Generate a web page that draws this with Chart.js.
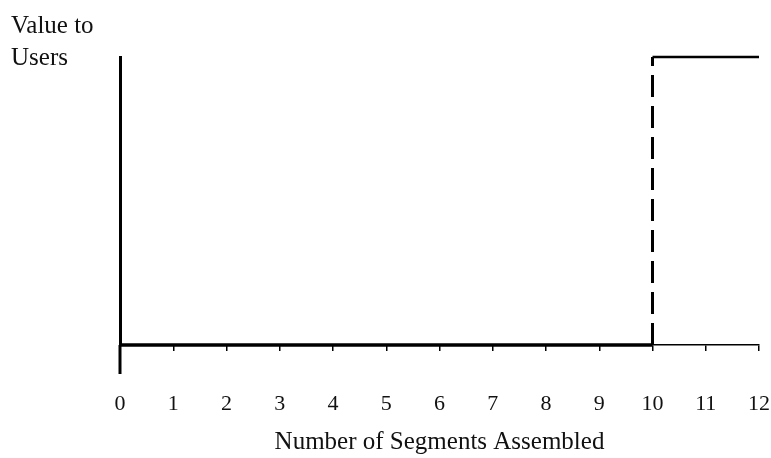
<!DOCTYPE html>
<html>
<head>
<meta charset="utf-8">
<script src="https://cdn.jsdelivr.net/npm/chart.js@4/dist/chart.umd.min.js"></script>
<style>
  html, body { margin: 0; padding: 0; background: #fff; }
  #wrap { width: 771px; height: 458px; position: relative; }
</style>
</head>
<body>
<div id="wrap"><canvas id="myChart"></canvas></div>
<script>
// segments on the x axis
var segments=[0,1,2,3,4,5,6,7,8,9,10,11,12];
// value stays at zero until the 10th segment, then jumps to full value
var flatX=[0,10];
var flatY=[0,0];
var jumpX=[10,10];
var jumpY=[0,1];
var fullX=[10,12];
var fullY=[1,1];
var yLabel=["Value to","Users"];
var xTitle="Number of Segments Assembled";

var serif="'Liberation Serif', 'DejaVu Serif', serif";

function pairs(xs,ys) {
    var out=[];
    for(let i=0;i<xs.length;i++) out.push({x:xs[i],y:ys[i]});
    return out;
}

// draws the y axis stub below the x axis and the left label
var extras={
    id:'extras',
    afterDraw:function(chart) {
        var ctx=chart.ctx;
        var x0=chart.scales.x.getPixelForValue(segments[0]);
        var bottom=chart.chartArea.bottom;
        ctx.save();
        ctx.strokeStyle='#000';
        ctx.lineWidth=3;
        ctx.beginPath();
        ctx.moveTo(x0,bottom);
        ctx.lineTo(x0,bottom+29);
        ctx.stroke();
        ctx.fillStyle='#111';
        ctx.font="25px "+serif;
        ctx.textBaseline='alphabetic';
        for(let i=0;i<yLabel.length;i++) {
            ctx.fillText(yLabel[i],11,33+i*32);
        }
        ctx.restore();
    }
};

var ctx=document.querySelector('#myChart').getContext('2d');
var myChart=new Chart(ctx,{
    type:'line',
    data:{
        datasets:[{
            data:pairs(flatX,flatY),
            borderColor:'#000',
            borderWidth:3.5,
            pointRadius:0,
            clip:false
        },{
            data:pairs(jumpX,jumpY),
            borderColor:'#000',
            borderWidth:3,
            borderDash:[22,9],
            borderCapStyle:'butt',
            pointRadius:0,
            clip:false
        },{
            data:pairs(fullX,fullY),
            borderColor:'#000',
            borderWidth:2.5,
            pointRadius:0,
            clip:false
        }]
    },
    options:{
        responsive:true,
        maintainAspectRatio:false,
        animation:false,
        layout:{padding:{left:120,top:57,right:12,bottom:0}},
        plugins:{legend:{display:false},tooltip:{enabled:false}},
        scales:{
            x:{
                type:'linear',
                min:segments[0],
                max:segments[segments.length-1],
                afterFit:function(scale) {
                    scale.height=113;
                    scale.paddingLeft=0;
                    scale.paddingRight=0;
                },
                border:{display:true,color:'#000',width:1.5},
                grid:{drawOnChartArea:false,drawTicks:true,tickLength:6,color:'#000',lineWidth:1.5},
                ticks:{
                    stepSize:1,
                    padding:40,
                    color:'#111',
                    font:{family:serif,size:22},
                    maxRotation:0,
                    autoSkip:false
                },
                title:{
                    display:true,
                    text:xTitle,
                    color:'#111',
                    font:{family:serif,size:25},
                    padding:{top:0,bottom:1}
                }
            },
            y:{
                min:0,
                max:1,
                afterFit:function(scale) { scale.width=0; },
                border:{display:true,color:'#000',width:3},
                grid:{display:false},
                ticks:{display:false}
            }
        }
    },
    plugins:[extras]
});
</script>
</body>
</html>
